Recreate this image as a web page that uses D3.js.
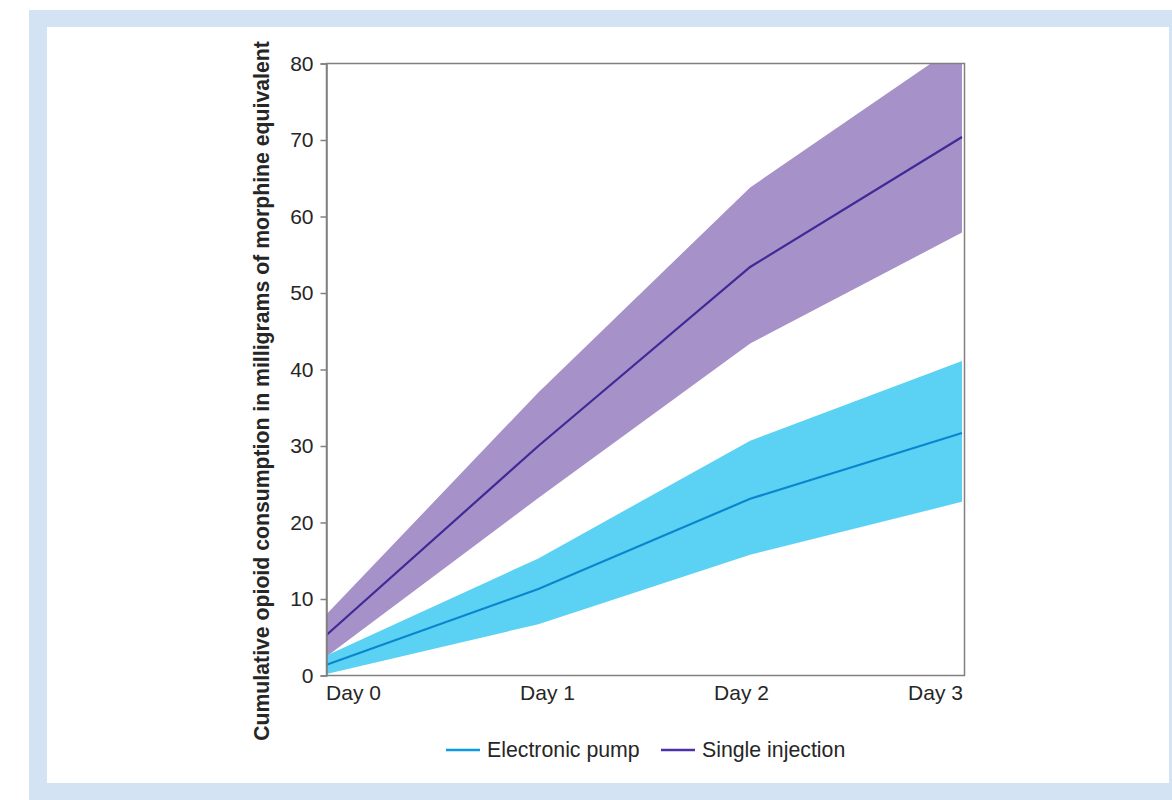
<!DOCTYPE html>
<html><head><meta charset="utf-8">
<script src="https://cdn.jsdelivr.net/npm/d3@7"></script>
<style>body{margin:0;background:#fff}svg{display:block}</style>
</head><body>
<svg id="c" width="1172" height="800"></svg>
<script>
const days = ["Day 0","Day 1","Day 2","Day 3"];
const yTicks = [0,10,20,30,40,50,60,70,80];
const pumpMean  = [1.4, 11.3, 23.1, 31.7];
const pumpLow   = [0.2, 6.7, 15.8, 22.7];
const pumpHigh  = [2.6, 15.3, 30.7, 41.1];
const injMean   = [5.3, 30.0, 53.4, 70.4];
const injLow    = [2.5, 23.2, 43.4, 57.9];
const injHigh   = [8.0, 37.0, 63.8, 82.8];
const seriesNames = ["Electronic pump","Single injection"];
const yTitle = "Cumulative opioid consumption in milligrams of morphine equivalent";

const svg = d3.select("#c");
// background frame
svg.append("rect").attr("x",29).attr("y",10).attr("width",1172-29).attr("height",790).attr("fill","#d3e3f3");
svg.append("rect").attr("x",47).attr("y",27).attr("width",1122).attr("height",756).attr("fill","#fff");

const L=326.5, R=964.5, T=63.5, B=675.5;
const x = d3.scaleLinear().domain([0,3]).range([L, 962]);
const y = d3.scaleLinear().domain([0,80]).range([B, T]);
const xl = d3.scalePoint().domain(days).range([353, 935]);

svg.append("defs").append("clipPath").attr("id","clip")
  .append("rect").attr("x",L).attr("y",T).attr("width",R-L).attr("height",B-T);

const g = svg.append("g").attr("clip-path","url(#clip)");
const area = (lo,hi)=> d3.area().x((d,i)=>x(i)).y0((d,i)=>y(lo[i])).y1((d,i)=>y(hi[i]))(lo);
const line = (m)=> d3.line().x((d,i)=>x(i)).y(d=>y(d))(m);

g.append("path").attr("d",area(injLow,injHigh)).attr("fill","#a691c8");
g.append("path").attr("d",area(pumpLow,pumpHigh)).attr("fill","#5bd2f3");
g.append("path").attr("d",line(injMean)).attr("fill","none").attr("stroke","#3f2a98").attr("stroke-width",2.2);
g.append("path").attr("d",line(pumpMean)).attr("fill","none").attr("stroke","#0a86cf").attr("stroke-width",2.2);

// frame
svg.append("rect").attr("x",L).attr("y",T).attr("width",R-L).attr("height",B-T)
  .attr("fill","none").attr("stroke","#808080").attr("stroke-width",1.5);

const yAxis = svg.append("g").attr("transform",`translate(${L},0)`)
  .call(d3.axisLeft(y).tickValues(yTicks).tickSize(6).tickPadding(7));
yAxis.select(".domain").attr("stroke","#808080").attr("stroke-width",1.5);
yAxis.selectAll(".tick line").attr("stroke","#808080").attr("stroke-width",1.5);
yAxis.selectAll(".tick text").attr("font-family","Liberation Sans, Arial, sans-serif")
  .attr("font-size",21).attr("fill","#262626");

const xAxis = svg.append("g").attr("transform",`translate(0,${B})`)
  .call(d3.axisBottom(xl).tickSize(0).tickPadding(10));
xAxis.select(".domain").remove();
xAxis.selectAll(".tick text").attr("font-family","Liberation Sans, Arial, sans-serif")
  .attr("font-size",21).attr("fill","#262626");

const yt = svg.append("text").attr("transform","translate(269,391) rotate(-90)")
  .attr("text-anchor","middle").attr("font-family","Liberation Sans, Arial, sans-serif")
  .attr("font-weight","bold").attr("font-size",19).attr("fill","#262626").text(yTitle);
const len = yt.node().getComputedTextLength();
yt.attr("font-size", 19*700/len);

// legend
const legColors = ["#0a9be0","#4b32a8"];
const legX = [446, 661];
seriesNames.forEach((n,i)=>{
  svg.append("line").attr("x1",legX[i]).attr("x2",legX[i]+34).attr("y1",750).attr("y2",750)
    .attr("stroke",legColors[i]).attr("stroke-width",2.5);
  svg.append("text").attr("x",legX[i]+41).attr("y",757).attr("font-family","Liberation Sans, Arial, sans-serif")
    .attr("font-size",21.3).attr("fill","#262626").text(n);
});
</script>
</body></html>
